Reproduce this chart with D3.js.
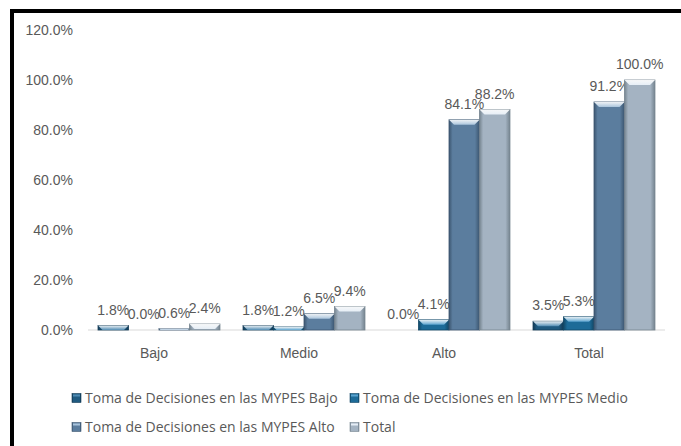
<!DOCTYPE html>
<html>
<head>
<meta charset="utf-8">
<script src="https://cdn.jsdelivr.net/npm/d3@7"></script>
<style>
    body { margin: 0; background: #fff; }
    svg text { font-family: "Liberation Sans", Arial, sans-serif; fill: #595959; }
    svg text.legend { font-family: "Open Sans", "Liberation Sans", sans-serif; }
</style>
</head>
<body>
<div id="chart"></div>
<script>
// Categories and series values (percent)
const categories = ["Bajo", "Medio", "Alto", "Total"];
const seriesNames = [
    "Toma de Decisiones en las MYPES Bajo",
    "Toma de Decisiones en las MYPES Medio",
    "Toma de Decisiones en las MYPES Alto",
    "Total"
];
const serieBajo = [1.8, 1.8, 0.0, 3.5];
const serieMedio = [0.0, 1.2, 4.1, 5.3];
const serieAlto = [0.6, 6.5, 84.1, 91.2];
const serieTotal = [2.4, 9.4, 88.2, 100.0];
const yTicks = [0, 20, 40, 60, 80, 100, 120];

const seriesValues = [serieBajo, serieMedio, serieAlto, serieTotal];

// base, light (bevel top), dark (edges)
const palette = [
    { base: "#1f5a80", light: "#4f8bb3", dark: "#123a55" },
    { base: "#1d6b98", light: "#5aa3cf", dark: "#114766" },
    { base: "#5b7d9e", light: "#a9c4dc", dark: "#3c5670" },
    { base: "#a4b3c2", light: "#e6eef6", dark: "#75848f" }
];

const width = 681;
const height = 446;

const svg = d3.select("#chart").append("svg")
    .attr("width", width)
    .attr("height", height);

svg.append("rect")
    .attr("width", width)
    .attr("height", height)
    .attr("fill", "#fff");

// gradients for the bevel look
const defs = svg.append("defs");
palette.forEach((c, i) => {
    const g = defs.append("linearGradient")
        .attr("id", "body" + i)
        .attr("x1", "0").attr("x2", "1").attr("y1", "0").attr("y2", "0");
    g.append("stop").attr("offset", "0%").attr("stop-color", c.dark);
    g.append("stop").attr("offset", "12%").attr("stop-color", c.base);
    g.append("stop").attr("offset", "85%").attr("stop-color", c.base);
    g.append("stop").attr("offset", "100%").attr("stop-color", c.dark);

    const t = defs.append("linearGradient")
        .attr("id", "top" + i)
        .attr("x1", "0").attr("x2", "0").attr("y1", "0").attr("y2", "1");
    t.append("stop").attr("offset", "0%").attr("stop-color", "#ffffff").attr("stop-opacity", 0.9);
    t.append("stop").attr("offset", "100%").attr("stop-color", c.light);
});

// Frame (only top and left edges are visible)
svg.append("path")
    .attr("d", `M12,${height} L12,11 L${width},11`)
    .attr("fill", "none")
    .attr("stroke", "#000")
    .attr("stroke-width", 4);

const x = d3.scaleBand()
    .domain(categories)
    .range([86.5, 666.5])
    .paddingInner(0.159)
    .paddingOuter(0.0795);

const xInner = d3.scaleBand()
    .domain(d3.range(seriesNames.length))
    .range([0, x.bandwidth()]);

const y = d3.scaleLinear()
    .domain([0, 120])
    .range([330, 30]);

// Y axis labels
svg.selectAll("text.ytick")
    .data(yTicks)
    .enter().append("text")
    .attr("class", "ytick")
    .attr("x", 73)
    .attr("y", d => y(d))
    .attr("dy", "0.35em")
    .attr("text-anchor", "end")
    .style("font-size", "14px")
    .text(d => d3.format(".1f")(d) + "%");

// Baseline
svg.append("line")
    .attr("x1", 88).attr("x2", 665)
    .attr("y1", y(0)).attr("y2", y(0))
    .attr("stroke", "#d9d9d9")
    .attr("stroke-width", 1);

// Bars
const groups = svg.selectAll("g.cat")
    .data(categories)
    .enter().append("g")
    .attr("class", "cat")
    .attr("transform", d => `translate(${x(d)},0)`);

groups.each(function (cat, ci) {
    const g = d3.select(this);
    seriesValues.forEach((vals, si) => {
        const v = vals[ci];
        const bx = xInner(si);
        const bw = xInner.bandwidth();
        const top = y(v);
        const h = y(0) - top;
        if (h > 0.3) {
            g.append("rect")
                .attr("x", bx).attr("y", top)
                .attr("width", bw).attr("height", h)
                .attr("fill", `url(#body${si})`)
                .attr("stroke", palette[si].dark)
                .attr("stroke-width", 0.8);
            const b = Math.min(5, h);
            g.append("path")
                .attr("d", `M${bx},${top} L${bx + bw},${top} L${bx + bw - b},${top + b} L${bx + b},${top + b} Z`)
                .attr("fill", `url(#top${si})`);
        }
        g.append("text")
            .attr("x", bx + bw / 2)
            .attr("y", top - 11)
            .attr("text-anchor", "middle")
            .style("font-size", "14px")
            .text(d3.format(".1f")(v) + "%");
    });
});

// Category labels
svg.selectAll("text.xtick")
    .data(categories)
    .enter().append("text")
    .attr("class", "xtick")
    .attr("x", d => x(d) + x.bandwidth() / 2 - 5)
    .attr("y", 358)
    .attr("text-anchor", "middle")
    .style("font-size", "14px")
    .text(d => d);

// Legend
const legendPos = [[72, 398], [350, 398], [72, 427], [350, 427]];
seriesNames.forEach((name, i) => {
    const [lx, ly] = legendPos[i];
    svg.append("rect")
        .attr("x", lx).attr("y", ly - 4.5)
        .attr("width", 9).attr("height", 9)
        .attr("fill", `url(#body${i})`)
        .attr("stroke", palette[i].dark)
        .attr("stroke-width", 0.6);
    svg.append("rect")
        .attr("x", lx + 1).attr("y", ly - 3.5)
        .attr("width", 7).attr("height", 2)
        .attr("fill", palette[i].light);
    svg.append("text")
        .attr("class", "legend")
        .attr("x", lx + 13)
        .attr("y", ly)
        .attr("dy", "0.35em")
        .style("font-size", "14px")
        .text(name);
});
</script>
</body>
</html>
